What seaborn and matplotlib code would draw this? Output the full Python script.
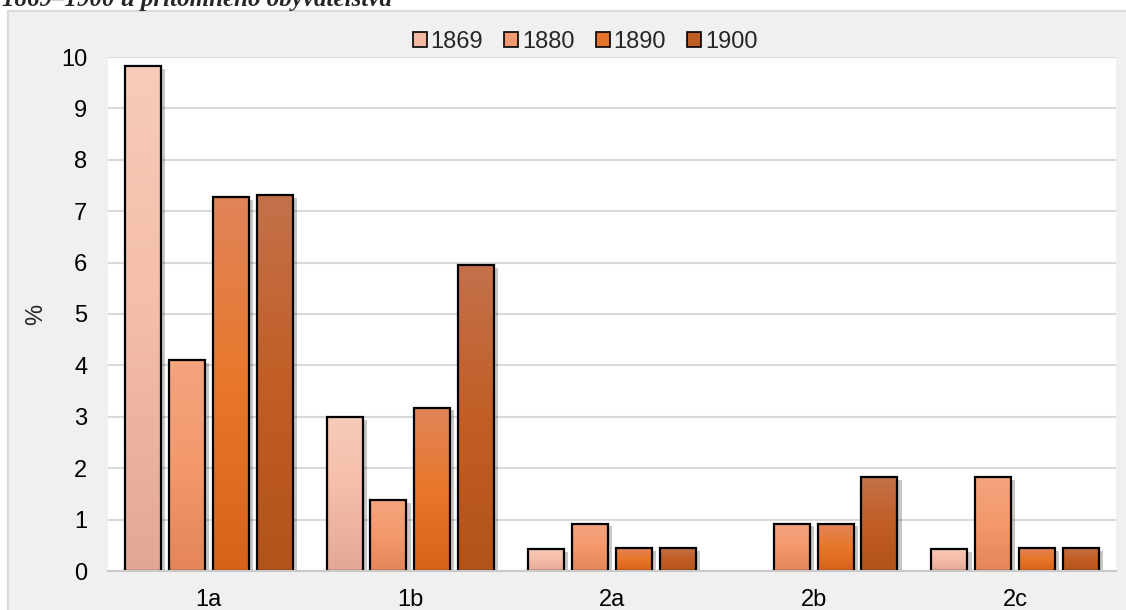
import pandas as pd
import numpy as np
import matplotlib
matplotlib.use('Agg')
import matplotlib.pyplot as plt
import seaborn as sns
from matplotlib.colors import LinearSegmentedColormap
from matplotlib.patches import Rectangle
from matplotlib import patheffects

# Datos
kategorie = ['1a', '1b', '2a', '2b', '2c']
roky = ['1869', '1880', '1890', '1900']
hodnoty_1869 = [9.82, 3.00, 0.43, 0.00, 0.43]
hodnoty_1880 = [4.11, 1.38, 0.92, 0.92, 1.83]
hodnoty_1890 = [7.27, 3.18, 0.45, 0.92, 0.45]
hodnoty_1900 = [7.31, 5.95, 0.45, 1.83, 0.45]

# Colores (arriba, centro, abajo) para el degradado de cada serie
barvy = ['#f3b9a3', '#f29a70', '#e5742a', '#bf5e24']
prechody = [
    ['#f7cbba', '#f4bda8', '#e2a893'],
    ['#f3a47f', '#f4996c', '#e4845a'],
    ['#e1845a', '#e8772a', '#d6621a'],
    ['#c4714b', '#c15e25', '#b35318'],
]

df = pd.DataFrame({
    'kategorie': kategorie * 4,
    'rok': np.repeat(roky, len(kategorie)),
    'hodnota': hodnoty_1869 + hodnoty_1880 + hodnoty_1890 + hodnoty_1900,
})

sns.set_style('white')
plt.rcParams['font.family'] = ['Liberation Sans', 'DejaVu Sans']
fs = 17

fig = plt.figure(figsize=(11.26, 6.10), dpi=100, facecolor='white')
# fondo gris con marco
fig.add_artist(Rectangle((8 / 1126, -0.01), 1.0, 1 - 11 / 610 + 0.01,
                         transform=fig.transFigure, facecolor='#f0f0f0',
                         edgecolor='#d9d9d9', linewidth=1.5, zorder=-5))
fig.text(2 / 1126, 1 - 6 / 610, '1869–1900 u přítomného obyvatelstva',
         family='Liberation Serif', fontweight='bold', fontstyle='italic',
         fontsize=18, va='baseline', ha='left')

ax = fig.add_axes([108 / 1126, 39 / 610, 1008 / 1126, 514 / 610])
ax.set_facecolor('white')

sns.barplot(data=df, x='kategorie', y='hodnota', hue='rok', palette=barvy,
            width=0.87, gap=0.18, edgecolor='black', linewidth=1.6, ax=ax,
            saturation=1)

grad = np.linspace(0, 1, 256).reshape(-1, 1)
for cont, pre in zip(ax.containers, prechody):
    cmap = LinearSegmentedColormap.from_list('g', pre[::-1])
    for bar in cont:
        h = bar.get_height()
        if not h or h <= 0:
            bar.set_visible(False)
            continue
        x0 = bar.get_x()
        w = bar.get_width()
        bar.set_path_effects([patheffects.SimplePatchShadow(offset=(3, -2), shadow_rgbFace='black', alpha=0.22)])
        bar.set_edgecolor('none')
        im = ax.imshow(grad, extent=[x0, x0 + w, 0, h], origin='lower', aspect='auto',
                       cmap=cmap, zorder=bar.get_zorder() + 0.1)
        im.set_clip_path(bar)
        ax.add_patch(Rectangle((x0, 0), w, h, fill=False, edgecolor='black',
                               linewidth=1.6, zorder=bar.get_zorder() + 0.2))

ax.set_xlim(-0.5, 4.5)
ax.set_ylim(0, 10)
ax.set_yticks(range(0, 11))
ax.set_axisbelow(True)
ax.yaxis.grid(True, color='#d9d9d9', linewidth=1.5)
for s in ['top', 'right', 'left']:
    ax.spines[s].set_visible(False)
ax.spines['bottom'].set_color('#c8c8c8')
ax.spines['bottom'].set_linewidth(1.5)
ax.tick_params(axis='both', length=0, labelsize=fs, colors='black')
ax.tick_params(axis='x', pad=13)
ax.tick_params(axis='y', pad=15)
ax.set_xlabel('')
ax.set_ylabel('%', fontsize=fs)
ax.yaxis.set_label_coords(-0.06, 0.5)

sns.move_legend(ax, 'center', bbox_to_anchor=(585 / 1126, 1 - 42 / 610),
                bbox_transform=fig.transFigure, ncol=4, frameon=False, title=None,
                fontsize=fs, handlelength=0.6, handleheight=0.6,
                handletextpad=0.15, columnspacing=0.9)
for h in ax.get_legend().legend_handles:
    h.set_edgecolor('black')
    h.set_linewidth(1.2)

plt.savefig('out.png', dpi=100, facecolor=fig.get_facecolor())
